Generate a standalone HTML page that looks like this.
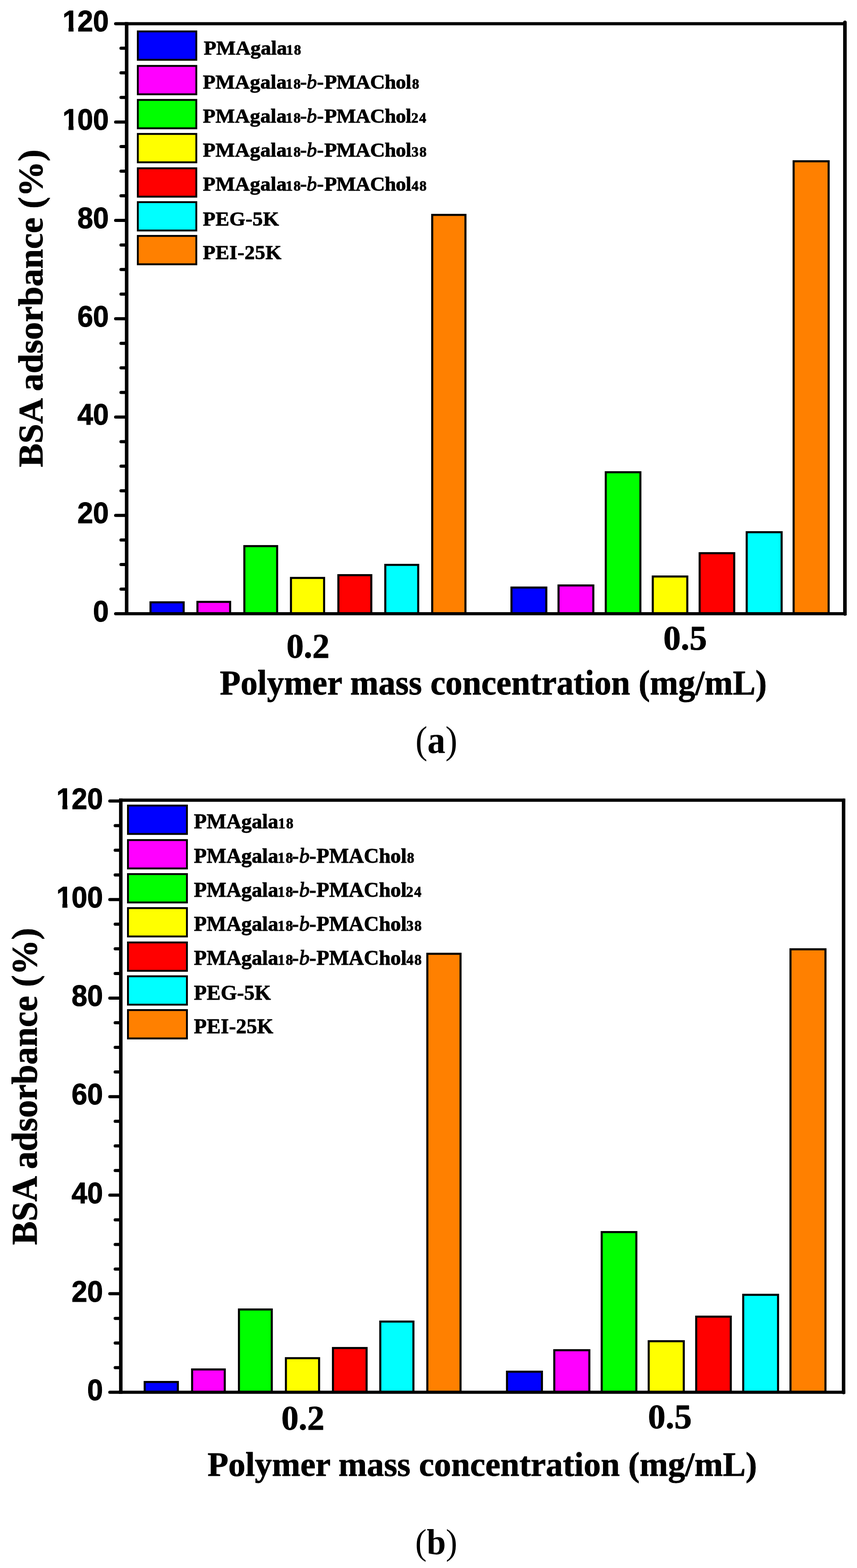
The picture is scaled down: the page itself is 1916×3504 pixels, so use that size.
<!DOCTYPE html>
<html><head><meta charset="utf-8"><title>BSA adsorbance</title>
<style>
html,body{margin:0;padding:0;background:#fff;}
svg{display:block;}
.tk{font-family:"Liberation Sans",Arial,sans-serif;font-weight:bold;font-size:100px;stroke:#000;stroke-linejoin:round;}
.lg{font-family:"Liberation Serif","Times New Roman",serif;font-weight:bold;font-size:100px;stroke:#000;stroke-linejoin:round;}
.sb{font-family:"Liberation Serif","Times New Roman",serif;font-weight:bold;font-size:100px;stroke:#000;stroke-linejoin:round;}
.sr{font-family:"Liberation Serif","Times New Roman",serif;font-weight:normal;font-size:100px;}
</style></head>
<body>
<svg width="1916" height="3504" viewBox="0 0 1916 3504">
<rect width="1916" height="3504" fill="#fff"/>
<g id="plot-a">
<rect x="336.5" y="1346" width="74.1" height="25.5" fill="#0000FF" stroke="#000" stroke-width="4.6"/>
<rect x="441.4" y="1345" width="73.1" height="26.5" fill="#FF00FF" stroke="#000" stroke-width="4.6"/>
<rect x="546.3" y="1220.4" width="73.3" height="151.1" fill="#00FF00" stroke="#000" stroke-width="4.6"/>
<rect x="650.5" y="1291.5" width="74.1" height="80" fill="#FFFF00" stroke="#000" stroke-width="4.6"/>
<rect x="756.5" y="1285.3" width="73.6" height="86.2" fill="#FF0000" stroke="#000" stroke-width="4.6"/>
<rect x="861.4" y="1262.3" width="73.6" height="109.2" fill="#00FFFF" stroke="#000" stroke-width="4.6"/>
<rect x="966.3" y="480.2" width="74.3" height="891.3" fill="#FF8000" stroke="#000" stroke-width="4.6"/>
<rect x="1143.5" y="1313" width="77.9" height="58.5" fill="#0000FF" stroke="#000" stroke-width="4.6"/>
<rect x="1248.7" y="1308.3" width="77.8" height="63.2" fill="#FF00FF" stroke="#000" stroke-width="4.6"/>
<rect x="1354.3" y="1055.3" width="77.4" height="316.2" fill="#00FF00" stroke="#000" stroke-width="4.6"/>
<rect x="1459.4" y="1288.3" width="77.2" height="83.2" fill="#FFFF00" stroke="#000" stroke-width="4.6"/>
<rect x="1564.2" y="1236.2" width="77.3" height="135.3" fill="#FF0000" stroke="#000" stroke-width="4.6"/>
<rect x="1669.4" y="1189.3" width="78.1" height="182.2" fill="#00FFFF" stroke="#000" stroke-width="4.6"/>
<rect x="1774.3" y="360.4" width="78.3" height="1011.1" fill="#FF8000" stroke="#000" stroke-width="4.6"/>
<line x1="279.2" y1="53.05" x2="1893" y2="53.05" stroke="#000" stroke-width="6.9"/>
<line x1="279.2" y1="1371.5" x2="1893" y2="1371.5" stroke="#000" stroke-width="7"/>
<line x1="283.15" y1="49.6" x2="283.15" y2="1375" stroke="#000" stroke-width="7.9"/>
<line x1="1889" y1="50.1" x2="1889" y2="1372" stroke="#000" stroke-width="8" stroke-linecap="round"/>
<line x1="258.5" y1="1371.5" x2="283.15" y2="1371.5" stroke="#000" stroke-width="7" stroke-linecap="round"/>
<line x1="270.5" y1="1316.5583" x2="283.15" y2="1316.5583" stroke="#000" stroke-width="7" stroke-linecap="round"/>
<line x1="270.5" y1="1261.6167" x2="283.15" y2="1261.6167" stroke="#000" stroke-width="7" stroke-linecap="round"/>
<line x1="270.5" y1="1206.675" x2="283.15" y2="1206.675" stroke="#000" stroke-width="7" stroke-linecap="round"/>
<line x1="258.5" y1="1151.7333" x2="283.15" y2="1151.7333" stroke="#000" stroke-width="7" stroke-linecap="round"/>
<line x1="270.5" y1="1096.7917" x2="283.15" y2="1096.7917" stroke="#000" stroke-width="7" stroke-linecap="round"/>
<line x1="270.5" y1="1041.85" x2="283.15" y2="1041.85" stroke="#000" stroke-width="7" stroke-linecap="round"/>
<line x1="270.5" y1="986.9083" x2="283.15" y2="986.9083" stroke="#000" stroke-width="7" stroke-linecap="round"/>
<line x1="258.5" y1="931.9667" x2="283.15" y2="931.9667" stroke="#000" stroke-width="7" stroke-linecap="round"/>
<line x1="270.5" y1="877.025" x2="283.15" y2="877.025" stroke="#000" stroke-width="7" stroke-linecap="round"/>
<line x1="270.5" y1="822.0833" x2="283.15" y2="822.0833" stroke="#000" stroke-width="7" stroke-linecap="round"/>
<line x1="270.5" y1="767.1417" x2="283.15" y2="767.1417" stroke="#000" stroke-width="7" stroke-linecap="round"/>
<line x1="258.5" y1="712.2" x2="283.15" y2="712.2" stroke="#000" stroke-width="7" stroke-linecap="round"/>
<line x1="270.5" y1="657.2583" x2="283.15" y2="657.2583" stroke="#000" stroke-width="7" stroke-linecap="round"/>
<line x1="270.5" y1="602.3167" x2="283.15" y2="602.3167" stroke="#000" stroke-width="7" stroke-linecap="round"/>
<line x1="270.5" y1="547.375" x2="283.15" y2="547.375" stroke="#000" stroke-width="7" stroke-linecap="round"/>
<line x1="258.5" y1="492.4333" x2="283.15" y2="492.4333" stroke="#000" stroke-width="7" stroke-linecap="round"/>
<line x1="270.5" y1="437.4917" x2="283.15" y2="437.4917" stroke="#000" stroke-width="7" stroke-linecap="round"/>
<line x1="270.5" y1="382.55" x2="283.15" y2="382.55" stroke="#000" stroke-width="7" stroke-linecap="round"/>
<line x1="270.5" y1="327.6083" x2="283.15" y2="327.6083" stroke="#000" stroke-width="7" stroke-linecap="round"/>
<line x1="258.5" y1="272.6667" x2="283.15" y2="272.6667" stroke="#000" stroke-width="7" stroke-linecap="round"/>
<line x1="270.5" y1="217.725" x2="283.15" y2="217.725" stroke="#000" stroke-width="7" stroke-linecap="round"/>
<line x1="270.5" y1="162.7833" x2="283.15" y2="162.7833" stroke="#000" stroke-width="7" stroke-linecap="round"/>
<line x1="270.5" y1="107.8417" x2="283.15" y2="107.8417" stroke="#000" stroke-width="7" stroke-linecap="round"/>
<line x1="258.5" y1="52.9" x2="283.15" y2="52.9" stroke="#000" stroke-width="7" stroke-linecap="round"/>
<text class="tk" x="328.9931" y="0" stroke-width="1.7389" transform="translate(0,1388.9) scale(0.6326,0.673)">0</text>
<text class="tk" x="273.3493 328.9931" y="0" stroke-width="1.7389" transform="translate(0,1169.1333) scale(0.6326,0.673)">20</text>
<text class="tk" x="273.3493 328.9931" y="0" stroke-width="1.7389" transform="translate(0,949.3667) scale(0.6326,0.673)">40</text>
<text class="tk" x="273.3493 328.9931" y="0" stroke-width="1.7389" transform="translate(0,729.6) scale(0.6326,0.673)">60</text>
<text class="tk" x="273.3493 328.9931" y="0" stroke-width="1.7389" transform="translate(0,509.8333) scale(0.6326,0.673)">80</text>
<clipPath id="ca100"><rect x="0" y="210.0667" width="400" height="71.147"/><rect x="153.2" y="280.2137" width="11.1563" height="12"/><rect x="174.3" y="280.2137" width="200" height="12"/></clipPath>
<g clip-path="url(#ca100)"><text class="tk" x="220.9947 273.3493 328.9931" y="0" stroke-width="1.7389" transform="translate(0,290.0667) scale(0.6326,0.673)">100</text></g>
<clipPath id="ca120"><rect x="0" y="-9.7" width="400" height="71.147"/><rect x="153.2" y="60.447" width="11.1563" height="12"/><rect x="174.3" y="60.447" width="200" height="12"/></clipPath>
<g clip-path="url(#ca120)"><text class="tk" x="220.9947 273.3493 328.9931" y="0" stroke-width="1.7389" transform="translate(0,70.3) scale(0.6326,0.673)">120</text></g>
<rect x="308.1" y="70.2" width="130.8" height="63.4" fill="#0000FF" stroke="#000" stroke-width="4.2"/>
<text class="lg" stroke-width="2.1753" transform="translate(0,122.2) scale(0.4597,0.4506)"><tspan x="990.8214" letter-spacing="0">PMAgala</tspan><tspan x="1391.463" font-size="69" letter-spacing="4">18</tspan></text>
<rect x="308.1" y="147.3" width="130.8" height="63.4" fill="#FF00FF" stroke="#000" stroke-width="4.2"/>
<text class="lg" stroke-width="2.1753" transform="translate(0,197.9) scale(0.4597,0.4506)"><tspan x="986.4707" letter-spacing="0.45">PMAgala</tspan><tspan x="1389.2877" font-size="69" letter-spacing="4">18</tspan><tspan x="1458.8877">-</tspan><tspan x="1491.2877" font-style="italic" font-weight="normal" stroke="#000" stroke-width="3">b</tspan><tspan x="1541.3877">-</tspan><tspan x="1576.8877" letter-spacing="-1.52">PMAChol</tspan><tspan x="2003.8877" font-size="69" letter-spacing="4">8</tspan></text>
<rect x="308.1" y="223.3" width="130.8" height="63.4" fill="#00FF00" stroke="#000" stroke-width="4.2"/>
<text class="lg" stroke-width="2.1753" transform="translate(0,273.8) scale(0.4597,0.4506)"><tspan x="986.4707" letter-spacing="0.45">PMAgala</tspan><tspan x="1389.2877" font-size="69" letter-spacing="4">18</tspan><tspan x="1458.8877">-</tspan><tspan x="1491.2877" font-style="italic" font-weight="normal" stroke="#000" stroke-width="3">b</tspan><tspan x="1541.3877">-</tspan><tspan x="1576.8877" letter-spacing="-1.52">PMAChol</tspan><tspan x="2000.0877" font-size="69" letter-spacing="4">24</tspan></text>
<rect x="308.1" y="299.3" width="130.8" height="63.4" fill="#FFFF00" stroke="#000" stroke-width="4.2"/>
<text class="lg" stroke-width="2.1753" transform="translate(0,349.9) scale(0.4597,0.4506)"><tspan x="986.4707" letter-spacing="0.45">PMAgala</tspan><tspan x="1389.2877" font-size="69" letter-spacing="4">18</tspan><tspan x="1458.8877">-</tspan><tspan x="1491.2877" font-style="italic" font-weight="normal" stroke="#000" stroke-width="3">b</tspan><tspan x="1541.3877">-</tspan><tspan x="1576.8877" letter-spacing="-1.52">PMAChol</tspan><tspan x="2001.5877" font-size="69" letter-spacing="4">38</tspan></text>
<rect x="308.1" y="376.1" width="130.8" height="63.4" fill="#FF0000" stroke="#000" stroke-width="4.2"/>
<text class="lg" stroke-width="2.1753" transform="translate(0,425.9) scale(0.4597,0.4506)"><tspan x="986.4707" letter-spacing="0.45">PMAgala</tspan><tspan x="1389.2877" font-size="69" letter-spacing="4">18</tspan><tspan x="1458.8877">-</tspan><tspan x="1491.2877" font-style="italic" font-weight="normal" stroke="#000" stroke-width="3">b</tspan><tspan x="1541.3877">-</tspan><tspan x="1576.8877" letter-spacing="-1.52">PMAChol</tspan><tspan x="2001.5877" font-size="69" letter-spacing="4">48</tspan></text>
<rect x="308.1" y="451.7" width="130.8" height="63.4" fill="#00FFFF" stroke="#000" stroke-width="4.2"/>
<text class="lg" stroke-width="2.1753" transform="translate(0,503.5) scale(0.4597,0.4506)"><tspan x="986.4707" letter-spacing="0.75">PEG-5K</tspan></text>
<rect x="308.1" y="527.2" width="130.8" height="63.4" fill="#FF8000" stroke="#000" stroke-width="4.2"/>
<text class="lg" stroke-width="2.1753" transform="translate(0,578.6) scale(0.4597,0.4506)"><tspan x="986.4707" letter-spacing="0.75">PEI-25K</tspan></text>
<text class="sb" stroke-width="1.2986" transform="translate(640.4,1469.6) scale(0.7701,0.7731)">0.2</text>
<text class="sb" stroke-width="1.2813" transform="translate(1483,1451.7) scale(0.7805,0.7751)">0.5</text>
<text class="sb" stroke-width="1.3181" transform="translate(491.6,1551.5) scale(0.7587,0.7736)">Polymer mass concentration (mg/mL)</text>
<text class="sr" transform="translate(928.7,1683.2) scale(0.806,0.872)">(<tspan font-weight="bold">a</tspan>)</text>
<text class="sb" stroke-width="1.2594" transform="translate(95,1044.1) rotate(-90) scale(0.794,0.7796)">BSA adsorbance (%)</text>
</g>
<g id="plot-b">
<rect x="323.5" y="3088.3" width="74.1" height="23" fill="#0000FF" stroke="#000" stroke-width="4.6"/>
<rect x="429.5" y="3060.3" width="73" height="51" fill="#FF00FF" stroke="#000" stroke-width="4.6"/>
<rect x="534.2" y="2926.3" width="73.4" height="185" fill="#00FF00" stroke="#000" stroke-width="4.6"/>
<rect x="639.2" y="3035.1" width="74.2" height="76.2" fill="#FFFF00" stroke="#000" stroke-width="4.6"/>
<rect x="744.4" y="3012.4" width="75.2" height="98.9" fill="#FF0000" stroke="#000" stroke-width="4.6"/>
<rect x="850.2" y="2953.3" width="74.1" height="158" fill="#00FFFF" stroke="#000" stroke-width="4.6"/>
<rect x="955.4" y="2131.4" width="74.2" height="979.9" fill="#FF8000" stroke="#000" stroke-width="4.6"/>
<rect x="1133.5" y="3065.3" width="78.1" height="46" fill="#0000FF" stroke="#000" stroke-width="4.6"/>
<rect x="1239.2" y="3017.3" width="78.4" height="94" fill="#FF00FF" stroke="#000" stroke-width="4.6"/>
<rect x="1345.2" y="2753.3" width="77.5" height="358" fill="#00FF00" stroke="#000" stroke-width="4.6"/>
<rect x="1450.3" y="2997.2" width="78.4" height="114.1" fill="#FFFF00" stroke="#000" stroke-width="4.6"/>
<rect x="1556.5" y="2942.3" width="77.3" height="169" fill="#FF0000" stroke="#000" stroke-width="4.6"/>
<rect x="1661.6" y="2893.5" width="77.9" height="217.8" fill="#00FFFF" stroke="#000" stroke-width="4.6"/>
<rect x="1767.3" y="2121.4" width="78.2" height="989.9" fill="#FF8000" stroke="#000" stroke-width="4.6"/>
<line x1="266.1" y1="1788.15" x2="1889.9" y2="1788.15" stroke="#000" stroke-width="7.3"/>
<line x1="266.1" y1="3111.3" x2="1889.9" y2="3111.3" stroke="#000" stroke-width="7"/>
<line x1="270.05" y1="1784.5" x2="270.05" y2="3114.8" stroke="#000" stroke-width="7.9"/>
<line x1="1886" y1="1788.5" x2="1886" y2="3111.8" stroke="#000" stroke-width="7.8" stroke-linecap="round"/>
<line x1="245.5" y1="3111.3" x2="270.05" y2="3111.3" stroke="#000" stroke-width="7" stroke-linecap="round"/>
<line x1="257.5" y1="3056.2458" x2="270.05" y2="3056.2458" stroke="#000" stroke-width="7" stroke-linecap="round"/>
<line x1="257.5" y1="3001.1917" x2="270.05" y2="3001.1917" stroke="#000" stroke-width="7" stroke-linecap="round"/>
<line x1="257.5" y1="2946.1375" x2="270.05" y2="2946.1375" stroke="#000" stroke-width="7" stroke-linecap="round"/>
<line x1="245.5" y1="2891.0833" x2="270.05" y2="2891.0833" stroke="#000" stroke-width="7" stroke-linecap="round"/>
<line x1="257.5" y1="2836.0292" x2="270.05" y2="2836.0292" stroke="#000" stroke-width="7" stroke-linecap="round"/>
<line x1="257.5" y1="2780.975" x2="270.05" y2="2780.975" stroke="#000" stroke-width="7" stroke-linecap="round"/>
<line x1="257.5" y1="2725.9208" x2="270.05" y2="2725.9208" stroke="#000" stroke-width="7" stroke-linecap="round"/>
<line x1="245.5" y1="2670.8667" x2="270.05" y2="2670.8667" stroke="#000" stroke-width="7" stroke-linecap="round"/>
<line x1="257.5" y1="2615.8125" x2="270.05" y2="2615.8125" stroke="#000" stroke-width="7" stroke-linecap="round"/>
<line x1="257.5" y1="2560.7583" x2="270.05" y2="2560.7583" stroke="#000" stroke-width="7" stroke-linecap="round"/>
<line x1="257.5" y1="2505.7042" x2="270.05" y2="2505.7042" stroke="#000" stroke-width="7" stroke-linecap="round"/>
<line x1="245.5" y1="2450.65" x2="270.05" y2="2450.65" stroke="#000" stroke-width="7" stroke-linecap="round"/>
<line x1="257.5" y1="2395.5958" x2="270.05" y2="2395.5958" stroke="#000" stroke-width="7" stroke-linecap="round"/>
<line x1="257.5" y1="2340.5417" x2="270.05" y2="2340.5417" stroke="#000" stroke-width="7" stroke-linecap="round"/>
<line x1="257.5" y1="2285.4875" x2="270.05" y2="2285.4875" stroke="#000" stroke-width="7" stroke-linecap="round"/>
<line x1="245.5" y1="2230.4333" x2="270.05" y2="2230.4333" stroke="#000" stroke-width="7" stroke-linecap="round"/>
<line x1="257.5" y1="2175.3792" x2="270.05" y2="2175.3792" stroke="#000" stroke-width="7" stroke-linecap="round"/>
<line x1="257.5" y1="2120.325" x2="270.05" y2="2120.325" stroke="#000" stroke-width="7" stroke-linecap="round"/>
<line x1="257.5" y1="2065.2708" x2="270.05" y2="2065.2708" stroke="#000" stroke-width="7" stroke-linecap="round"/>
<line x1="245.5" y1="2010.2167" x2="270.05" y2="2010.2167" stroke="#000" stroke-width="7" stroke-linecap="round"/>
<line x1="257.5" y1="1955.1625" x2="270.05" y2="1955.1625" stroke="#000" stroke-width="7" stroke-linecap="round"/>
<line x1="257.5" y1="1900.1083" x2="270.05" y2="1900.1083" stroke="#000" stroke-width="7" stroke-linecap="round"/>
<line x1="257.5" y1="1845.0542" x2="270.05" y2="1845.0542" stroke="#000" stroke-width="7" stroke-linecap="round"/>
<line x1="245.5" y1="1790" x2="270.05" y2="1790" stroke="#000" stroke-width="7" stroke-linecap="round"/>
<text class="tk" x="308.1267" y="0" stroke-width="1.7389" transform="translate(0,3129) scale(0.6326,0.673)">0</text>
<text class="tk" x="252.9572 308.1267" y="0" stroke-width="1.7389" transform="translate(0,2908.7833) scale(0.6326,0.673)">20</text>
<text class="tk" x="252.9572 308.1267" y="0" stroke-width="1.7389" transform="translate(0,2688.5667) scale(0.6326,0.673)">40</text>
<text class="tk" x="252.9572 308.1267" y="0" stroke-width="1.7389" transform="translate(0,2468.35) scale(0.6326,0.673)">60</text>
<text class="tk" x="252.9572 308.1267" y="0" stroke-width="1.7389" transform="translate(0,2248.1333) scale(0.6326,0.673)">80</text>
<clipPath id="cb100"><rect x="0" y="1947.9167" width="400" height="71.147"/><rect x="139.5" y="2018.0637" width="11.1563" height="12"/><rect x="161.4" y="2018.0637" width="200" height="12"/></clipPath>
<g clip-path="url(#cb100)"><text class="tk" x="199.3379 252.9572 308.1267" y="0" stroke-width="1.7389" transform="translate(0,2027.9167) scale(0.6326,0.673)">100</text></g>
<clipPath id="cb120"><rect x="0" y="1727.7" width="400" height="71.147"/><rect x="139.5" y="1797.847" width="11.1563" height="12"/><rect x="161.4" y="1797.847" width="200" height="12"/></clipPath>
<g clip-path="url(#cb120)"><text class="tk" x="199.3379 252.9572 308.1267" y="0" stroke-width="1.7389" transform="translate(0,1807.7) scale(0.6326,0.673)">120</text></g>
<rect x="286.1" y="1800.2" width="131.8" height="63.4" fill="#0000FF" stroke="#000" stroke-width="4.2"/>
<text class="lg" stroke-width="2.1464" transform="translate(0,1851.1) scale(0.4659,0.4736)"><tspan x="930.3889" letter-spacing="0">PMAgala</tspan><tspan x="1334.4196" font-size="69" letter-spacing="4">18</tspan></text>
<rect x="286.1" y="1877.3" width="131.8" height="63.4" fill="#FF00FF" stroke="#000" stroke-width="4.2"/>
<text class="lg" stroke-width="2.1464" transform="translate(0,1927.5) scale(0.4659,0.4736)"><tspan x="930.3889" letter-spacing="0">PMAgala</tspan><tspan x="1332.2732" font-size="69" letter-spacing="4">18</tspan><tspan x="1400.7732">-</tspan><tspan x="1435.1732" font-style="italic" font-weight="normal" stroke="#000" stroke-width="3">b</tspan><tspan x="1484.4732">-</tspan><tspan x="1518.4732" letter-spacing="0">PMAChol</tspan><tspan x="1953.1732" font-size="69" letter-spacing="4">8</tspan></text>
<rect x="286.1" y="1953.3" width="131.8" height="63.4" fill="#00FF00" stroke="#000" stroke-width="4.2"/>
<text class="lg" stroke-width="2.1464" transform="translate(0,2003.7) scale(0.4659,0.4736)"><tspan x="930.3889" letter-spacing="0">PMAgala</tspan><tspan x="1332.2732" font-size="69" letter-spacing="4">18</tspan><tspan x="1400.7732">-</tspan><tspan x="1435.1732" font-style="italic" font-weight="normal" stroke="#000" stroke-width="3">b</tspan><tspan x="1484.4732">-</tspan><tspan x="1518.4732" letter-spacing="0">PMAChol</tspan><tspan x="1949.1732" font-size="69" letter-spacing="4">24</tspan></text>
<rect x="286.1" y="2029.3" width="131.8" height="63.4" fill="#FFFF00" stroke="#000" stroke-width="4.2"/>
<text class="lg" stroke-width="2.1464" transform="translate(0,2079.9) scale(0.4659,0.4736)"><tspan x="930.3889" letter-spacing="0">PMAgala</tspan><tspan x="1332.2732" font-size="69" letter-spacing="4">18</tspan><tspan x="1400.7732">-</tspan><tspan x="1435.1732" font-style="italic" font-weight="normal" stroke="#000" stroke-width="3">b</tspan><tspan x="1484.4732">-</tspan><tspan x="1518.4732" letter-spacing="0">PMAChol</tspan><tspan x="1949.9732" font-size="69" letter-spacing="4">38</tspan></text>
<rect x="286.1" y="2106.1" width="131.8" height="63.4" fill="#FF0000" stroke="#000" stroke-width="4.2"/>
<text class="lg" stroke-width="2.1464" transform="translate(0,2155.9) scale(0.4659,0.4736)"><tspan x="930.3889" letter-spacing="0">PMAgala</tspan><tspan x="1332.2732" font-size="69" letter-spacing="4">18</tspan><tspan x="1400.7732">-</tspan><tspan x="1435.1732" font-style="italic" font-weight="normal" stroke="#000" stroke-width="3">b</tspan><tspan x="1484.4732">-</tspan><tspan x="1518.4732" letter-spacing="0">PMAChol</tspan><tspan x="1950.0732" font-size="69" letter-spacing="4">48</tspan></text>
<rect x="286.1" y="2181.7" width="131.8" height="63.4" fill="#00FFFF" stroke="#000" stroke-width="4.2"/>
<text class="lg" stroke-width="2.1464" transform="translate(0,2233.5) scale(0.4659,0.4736)"><tspan x="930.3889" letter-spacing="0.55">PEG-5K</tspan></text>
<rect x="286.1" y="2257.2" width="131.8" height="63.4" fill="#FF8000" stroke="#000" stroke-width="4.2"/>
<text class="lg" stroke-width="2.1464" transform="translate(0,2308.5) scale(0.4659,0.4736)"><tspan x="930.3889" letter-spacing="0.55">PEI-25K</tspan></text>
<text class="sb" stroke-width="1.2946" transform="translate(628.9,3194.6) scale(0.7725,0.7891)">0.2</text>
<text class="sb" stroke-width="1.2764" transform="translate(1448.8,3191.8) scale(0.7835,0.7911)">0.5</text>
<text class="sb" stroke-width="1.3119" transform="translate(464,3298.4) scale(0.7623,0.7626)">Polymer mass concentration (mg/mL)</text>
<text class="sr" transform="translate(928.2,3472.8) scale(0.771,0.8)">(<tspan font-weight="bold">b</tspan>)</text>
<text class="sb" stroke-width="1.2626" transform="translate(81.9,2782) rotate(-90) scale(0.792,0.7946)">BSA adsorbance (%)</text>
</g>
</svg>
</body></html>
